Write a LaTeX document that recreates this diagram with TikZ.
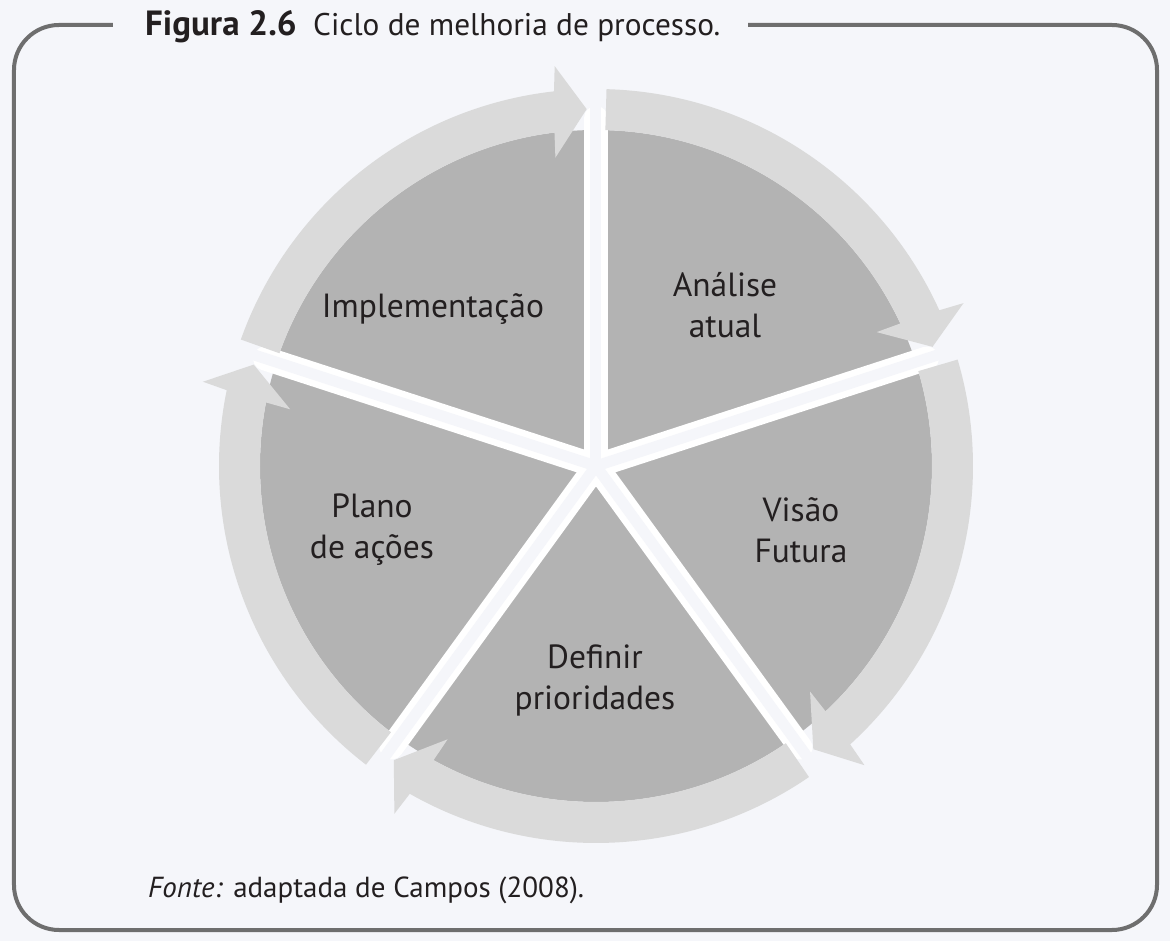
\documentclass[tikz,border=0pt]{standalone}
\usepackage{fontspec}
\setmainfont{PT Sans}
\usetikzlibrary{positioning}
\definecolor{pagebg}{RGB}{245,246,250}
\definecolor{slicegray}{RGB}{179,179,179}
\definecolor{ringgray}{RGB}{218,218,218}
\definecolor{framegray}{RGB}{110,110,110}
\definecolor{inkdark}{RGB}{35,31,32}

\begin{document}
\begin{tikzpicture}[
  x=1pt, y=1pt,
  lbl/.style={font=\fontsize{33.5}{41}\selectfont, text=inkdark, align=center, inner sep=0pt},
  captext/.style={text=inkdark, inner sep=0pt, anchor=base west},
  ringarrow/.style={fill=ringgray},
  spoke/.style={draw=white, line width=24pt, line cap=round},
  gapline/.style={draw=pagebg, line width=11pt}
]
\fill[pagebg] (-596,-475) rectangle (574,466);
\useasboundingbox (-596,-475) rectangle (574,466);

% ---- frame, open at the top for the caption
\draw[framegray, line width=4pt, rounded corners=45pt]
  (-483,441) -- (-582,441) -- (-582,-464) -- (561,-464) -- (561,441) -- (152,441);

% ---- caption and source
\node[captext, font=\fontsize{35}{40}\selectfont\bfseries] (fig) at (-451,430) {Figura 2.6};
\node[captext, font=\fontsize{31.3}{40}\selectfont, right=16pt of fig.base east, anchor=base west]
  (title) {Ciclo de melhoria de processo.};
\node[captext, font=\fontsize{29}{32}\selectfont] (src) at (-448,-431)
  {\textit{Fonte:} adaptada de Campos (2008).};

% ---- the disc and the spokes between the five slices
\fill[slicegray] (0,0) circle[radius=336];
\foreach \a in {90,18,-54,-126,162}
  \draw[spoke] (0,0) -- (\a:348);

% ---- one arrow of the ring per slice, clockwise
\foreach \a in {90,18,-54,-126,162}{
  \pgfmathsetmacro{\s}{\a-1.6}
  \pgfmathsetmacro{\e}{\a-72+6.4}
  \pgfmathsetmacro{\ei}{\a-72+7.1}
  \pgfmathsetmacro{\eo}{\a-72+5.9}
  \pgfmathsetmacro{\ein}{\a-72+7.5}
  \pgfmathsetmacro{\t}{\a-72+1.5}
  \fill[ringarrow] (\s:377) arc[start angle=\s, end angle=\e, radius=377]
    -- (\eo:402) -- (\t:357) -- (\ein:311) -- (\ei:336)
    arc[start angle=\ei, end angle=\s, radius=336] -- cycle;
}
\foreach \a in {90,18,-54,-126,162}
  \draw[gapline] (0,0) -- (\a:362);

% ---- slice labels
\node[lbl] (impl) at (-163,157) {Implementação};
\node[lbl] (anal) at (129,161) {Análise\\atual};
\node[lbl] (visao) at (205,-64) {Visão\\Futura};
\node[lbl] (prio) at (-1,-214) {Definir\\prioridades};
\node[lbl] (plano) at (-224,-64) {Plano\\de ações};

\end{tikzpicture}
\end{document}
